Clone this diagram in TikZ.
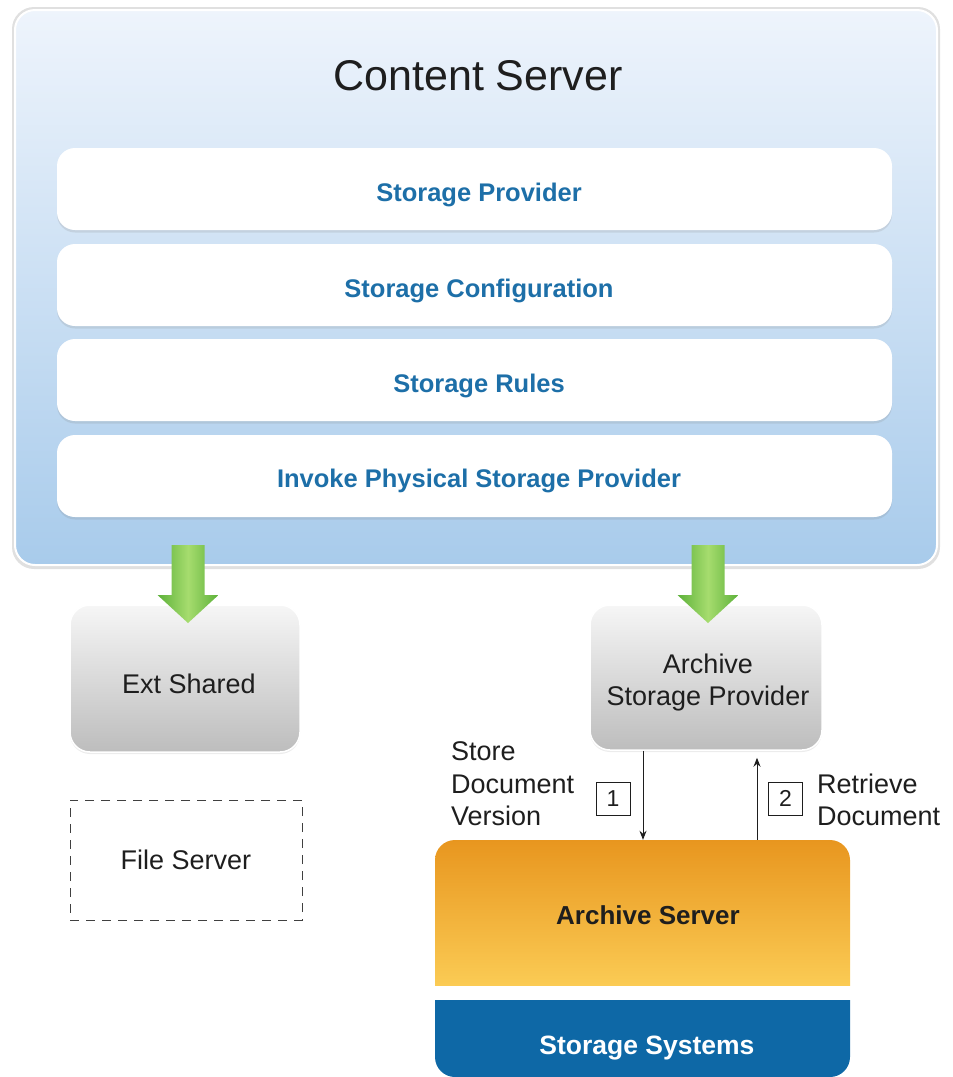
\documentclass[tikz,border=0pt]{standalone}
\usepackage{fontspec}
\setmainfont{Liberation Sans}
\usetikzlibrary{arrows.meta,shadows,calc}
\definecolor{csTop}{HTML}{EEF4FC}
\definecolor{csBot}{HTML}{A8CBEB}
\definecolor{barText}{HTML}{1D6FA8}
\definecolor{grTop}{HTML}{F6F6F6}
\definecolor{grBot}{HTML}{BDBDBD}
\definecolor{orTop}{HTML}{E8961F}
\definecolor{orBot}{HTML}{FED45D}
\definecolor{ssBlue}{HTML}{0E68A6}
\definecolor{gEdge}{HTML}{5DB13A}
\definecolor{gMid}{HTML}{A6DC6E}
\definecolor{txt}{HTML}{1E1E1E}
\begin{document}
\begin{tikzpicture}[x=1pt,y=-1pt,
  csbox/.style={rounded corners=20pt, top color=csTop, bottom color=csBot, draw=white, line width=2pt, inner sep=0pt},
  barbox/.style={rounded corners=18pt, fill=white, minimum width=835pt, minimum height=82pt, inner sep=0pt,
    drop shadow={opacity=0.18, shadow xshift=0pt, shadow yshift=-2.5pt}},
  bartext/.style={inner sep=0pt, text height=18.3pt, text depth=0pt,
    font=\fontsize{25.5}{30}\selectfont\bfseries, text=barText},
  graybox/.style={rounded corners=20pt, top color=grTop, bottom color=grBot, draw=white, line width=1.5pt,
    inner sep=0pt, drop shadow={opacity=0.15, shadow xshift=0pt, shadow yshift=-2pt}},
  graytext/.style={inner sep=0pt, align=center, font=\fontsize{27}{32}\selectfont, text=txt},
  greenarrow/.style={left color=gEdge, right color=gEdge, middle color=gMid},
  numbox/.style={draw=txt, line width=0.8pt, minimum width=34pt, minimum height=33pt, inner sep=0pt,
    font=\fontsize{23}{26}\selectfont, text=txt},
  lbl/.style={inner sep=0pt, align=left, font=\fontsize{27}{32.5}\selectfont, text=txt},
  flow/.style={draw=txt, line width=1pt, -{Stealth[length=9pt,width=7pt]}}
]
\useasboundingbox (0,0) rectangle (953,1077);

% Content Server
\fill[rounded corners=22pt, black!12] (12,7) rectangle (940,569);
\node[csbox, minimum width=922pt, minimum height=555pt] (cs) at (476,287.5) {};
\node[inner sep=0pt, text height=30.8pt, text depth=0pt, font=\fontsize{43}{48}\selectfont, text=txt] (cst) at (478,75) {Content Server};

\node[barbox] (b1) at (474.5,189) {};
\node[barbox] (b2) at (474.5,285) {};
\node[barbox] (b3) at (474.5,380) {};
\node[barbox] (b4) at (474.5,476) {};
\node[bartext] (t1) at (479,192) {Storage Provider};
\node[bartext] (t2) at (479,288) {Storage Configuration};
\node[bartext] (t3) at (479,383) {Storage Rules};
\node[bartext] (t4) at (479,478) {Invoke Physical Storage Provider};

% lower boxes
\node[graybox, minimum width=230pt, minimum height=147pt] (ext) at (185,678.5) {};
\node[graytext, text height=19.3pt, text depth=0pt] (extt) at (189,684) {Ext Shared};
\node[graybox, minimum width=232pt, minimum height=145pt] (asp) at (706,677.5) {};
\node[graytext] (aspt) at (708,683) {Archive\\Storage Provider};
\node[draw=black!75, dash pattern=on 9pt off 7pt, line width=1pt, minimum width=232pt, minimum height=120pt,
  inner sep=0pt, text height=19.3pt, text depth=0pt, font=\fontsize{27}{30}\selectfont, text=txt] (fs) at (186,860) {File Server};

% green block arrows (connectors from Content Server)
\shade[greenarrow] let \p1=(ext.north) in
  ({\x1+3pt-16.5pt},545) -- ({\x1+3pt+16.5pt},545) -- ({\x1+3pt+16.5pt},595) -- ({\x1+3pt+30.5pt},595)
  -- ({\x1+3pt},623) -- ({\x1+3pt-30.5pt},595) -- ({\x1+3pt-16.5pt},595) -- cycle;
\shade[greenarrow] let \p1=(asp.north) in
  ({\x1+2pt-16.5pt},545) -- ({\x1+2pt+16.5pt},545) -- ({\x1+2pt+16.5pt},595) -- ({\x1+2pt+30.5pt},595)
  -- ({\x1+2pt},623) -- ({\x1+2pt-30.5pt},595) -- ({\x1+2pt-16.5pt},595) -- cycle;

% Archive Server (top corners rounded)
\begin{scope}
  \clip (430,835) rectangle (855,985);
  \shade[rounded corners=20pt, top color=orTop, bottom color=orBot] (435,840) rectangle (850,1010);
\end{scope}
\node[minimum width=415pt, minimum height=145pt, inner sep=0pt] (as) at (642.5,912.5) {};
\node[inner sep=0pt, text height=18.6pt, text depth=0pt, font=\fontsize{26}{30}\selectfont\bfseries, text=txt] (ast) at (648,915) {Archive Server};

% Storage Systems (bottom corners rounded)
\begin{scope}
  \clip (430,1000) rectangle (855,1077);
  \fill[rounded corners=20pt, ssBlue] (435,970) rectangle (850,1077);
\end{scope}
\node[minimum width=415pt, minimum height=77pt, inner sep=0pt] (ss) at (642.5,1038.5) {};
\node[inner sep=0pt, text height=19pt, text depth=0pt, font=\fontsize{26.5}{30}\selectfont\bfseries, text=white] (sst) at (647,1045) {Storage Systems};

% store / retrieve
\coordinate (d1) at (643,0);
\coordinate (d2) at (757,0);
\draw[flow] (asp.south -| d1) -- (as.north -| d1);
\draw[flow, shorten >=7pt] (as.north -| d2) -- (asp.south -| d2);
\node[numbox] (n1) at (613,798.5) {1};
\node[numbox] (n2) at (785.5,798.5) {2};
\node[lbl, anchor=west] (l1) at (451,784) {Store\\Document\\Version};
\node[lbl, anchor=west] (l2) at (817,800) {Retrieve\\Document};
\end{tikzpicture}
\end{document}
